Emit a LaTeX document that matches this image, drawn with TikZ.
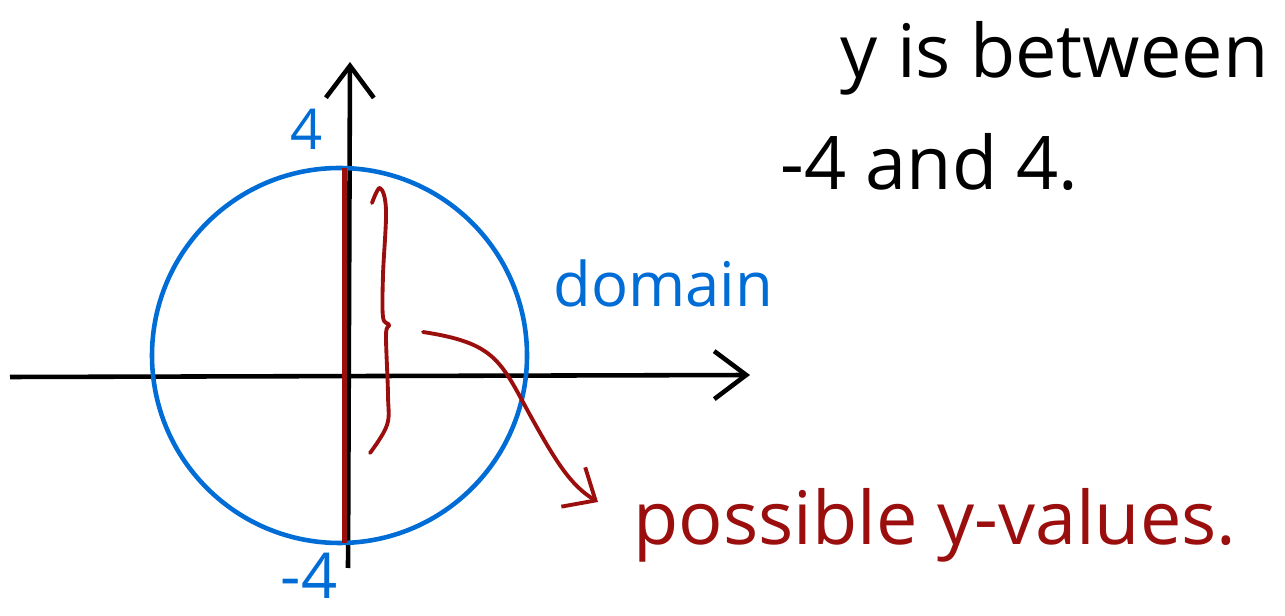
\documentclass[tikz,border=0pt]{standalone}
\usepackage{fontspec}
\setmainfont{Open Sans}
\usepackage{xcolor}
\usetikzlibrary{arrows.meta}
\definecolor{penblue}{RGB}{0,108,214}
\definecolor{penred}{RGB}{155,14,14}

\begin{document}
\begin{tikzpicture}[
      ax/.style={line width=1.3pt,-{Straight Barb[length=3.2mm,width=4.8mm]}},
      rd/.style={penred,line width=1.1pt,line cap=round,line join=round},
      lbl/.style={inner sep=0pt,anchor=base west}]
    \useasboundingbox (0,0) rectangle (12.85,6.15);
    % axes
    \coordinate (xl) at (0.10,2.38);
    \coordinate (xr) at (7.50,2.40);
    \coordinate (yb) at (3.48,0.47);
    \coordinate (yt) at (3.50,5.53);
    \draw[ax] (xl) -- (xr);
    \draw[ax] (yb) -- (yt);
    % domain circle, radius 4
    \coordinate (o) at (3.395,2.595);
    \draw[penblue,line width=1.3pt] (o) circle[radius=1.875cm];
    % y-range on the axis
    \coordinate (ytop) at (3.445,4.47);
    \coordinate (ybot) at (3.445,0.72);
    \draw[penred,line width=1.5pt] (ybot) -- (ytop);
    % brace and pointer
    \draw[rd] plot[smooth,tension=0.6] coordinates {(3.72,4.12) (3.80,4.27) (3.86,4.05)
      (3.83,3.40) (3.83,2.98) (3.89,2.90) (3.86,2.80) (3.88,2.20) (3.87,1.90) (3.70,1.62)};
    \coordinate (bs) at (4.23,2.83);
    \coordinate (be) at (5.98,1.13);
    \draw[rd,-{Straight Barb[length=2.6mm,width=4.6mm]}] (bs)
      .. controls (4.95,2.72) and (5.00,2.55) .. (5.30,2.00)
      .. controls (5.55,1.55) and (5.70,1.30) .. (be);
    % labels
    \node[lbl,penblue,font=\fontsize{16}{18}\selectfont] (lfour) at (2.90,4.65) {4};
    \node[lbl,penblue,font=\fontsize{18}{21}\selectfont] (lmfour) at (2.80,0.16) {-4};
    \node[lbl,penblue,font=\fontsize{17.5}{20}\selectfont] (dom) at (5.53,3.08) {domain};
    \node[lbl,penred,font=\fontsize{21}{24}\selectfont] (pv) at (6.33,0.70) {possible y-values.};
    \node[lbl,font=\fontsize{21}{24}\selectfont] (l1) at (8.40,5.37) {y is between};
    \node[lbl,font=\fontsize{21}{24}\selectfont] (l2) at (7.80,4.25) {-4 and 4.};
  \end{tikzpicture}
\end{document}
